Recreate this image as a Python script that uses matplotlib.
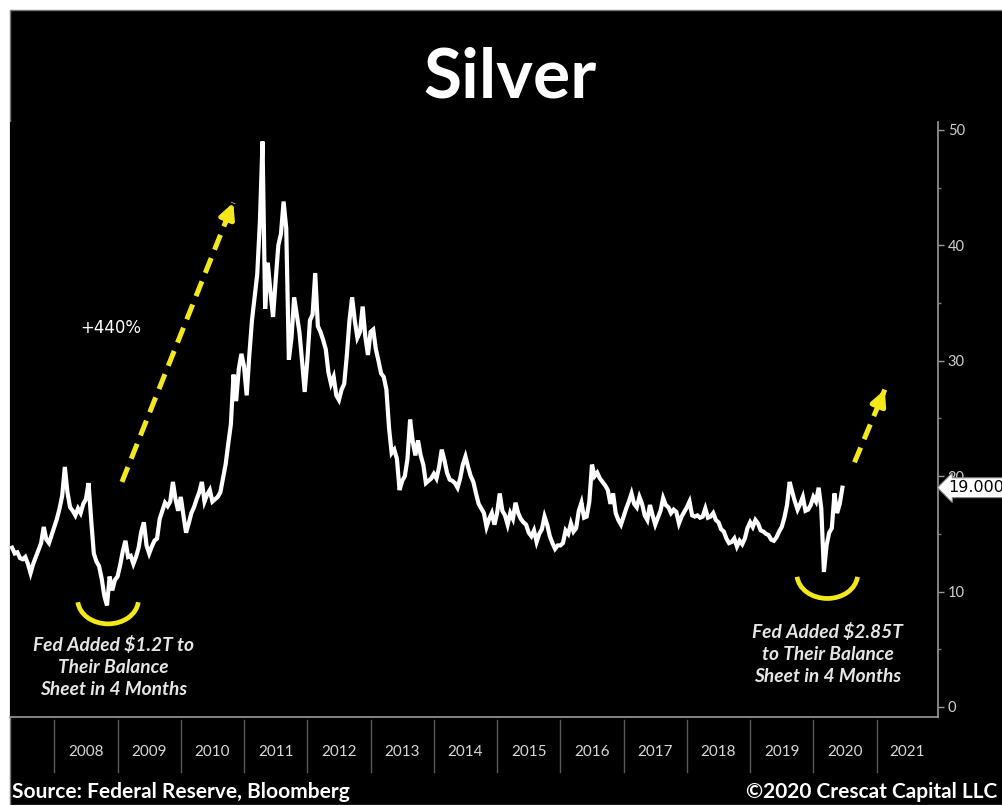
import matplotlib
matplotlib.use("Agg")
import matplotlib.pyplot as plt
import numpy as np
from matplotlib.patches import Arc, Rectangle
from matplotlib.transforms import blended_transform_factory

plt.rcParams['font.family'] = ['Lato', 'DejaVu Sans']

# Silver spot price (USD/oz), two readings per month
silver_2007 = [13.8, 13.3, 13.4, 12.9, 12.8, 13.0, 12.4, 11.6, 12.4, 13.0, 13.6, 14.2,
               15.6, 14.5, 14.2, 14.9]  # May-Dec
silver_2008 = [15.6, 16.3, 17.2, 18.3, 20.8, 18.6, 17.3, 17.0, 16.6, 17.2, 16.8, 17.6,
               18.0, 19.4, 16.2, 13.3, 12.6, 12.2, 11.1, 9.6, 8.8, 11.3, 10.1, 11.0]
silver_2009 = [11.3, 12.3, 13.5, 14.4, 13.0, 13.1, 12.4, 13.0, 13.8, 15.2, 16.0, 14.0,
               13.3, 13.9, 14.4, 14.6, 16.3, 17.0, 17.7, 17.4, 17.8, 19.5, 18.0, 17.0]
silver_2010 = [18.2, 16.6, 15.1, 15.9, 16.8, 17.3, 18.0, 18.6, 19.5, 17.8, 18.4, 18.8,
               17.8, 18.0, 18.2, 18.6, 19.8, 21.0, 22.8, 24.5, 28.8, 26.5, 29.3, 30.6]
silver_2011 = [29.5, 27.0, 30.5, 33.5, 35.5, 37.5, 42.0, 49.0, 34.5, 38.5, 36.0, 33.8,
               37.0, 40.0, 41.0, 43.8, 41.5, 30.1, 32.0, 35.5, 34.0, 32.5, 30.0, 27.3]
silver_2012 = [30.0, 33.5, 34.0, 37.6, 33.0, 32.5, 31.8, 31.0, 29.0, 28.0, 28.6, 27.0,
               26.6, 27.5, 28.0, 30.5, 33.5, 35.5, 33.5, 32.0, 32.5, 34.7, 32.1, 30.5]
silver_2013 = [32.5, 32.7, 31.0, 30.0, 28.9, 28.6, 27.5, 24.2, 22.0, 22.3, 21.5, 18.8,
               19.6, 20.0, 21.5, 24.9, 23.0, 21.8, 23.1, 21.8, 21.0, 19.4, 19.6, 19.8]
silver_2014 = [20.2, 19.8, 20.8, 22.3, 21.4, 20.3, 19.7, 19.6, 19.4, 19.0, 19.8, 21.0,
               21.7, 20.8, 20.0, 19.5, 18.5, 17.6, 17.2, 16.8, 15.6, 16.3, 16.8, 15.8]
silver_2015 = [16.8, 18.5, 17.0, 16.6, 15.8, 16.8, 16.3, 17.7, 16.8, 16.3, 16.0, 15.8,
               15.1, 14.8, 15.3, 14.3, 15.0, 15.4, 16.5, 15.8, 14.8, 14.2, 13.7, 14.0]
silver_2016 = [14.0, 14.2, 15.3, 15.0, 15.9, 15.2, 15.5, 17.0, 17.7, 16.4, 16.5, 17.8,
               21.0, 20.0, 20.3, 19.8, 19.5, 19.2, 18.8, 17.6, 18.5, 16.8, 16.2, 15.8]
silver_2017 = [16.5, 17.2, 17.8, 18.5, 17.6, 17.3, 18.2, 17.6, 16.6, 16.2, 17.5, 16.6,
               15.8, 16.4, 17.0, 18.1, 17.5, 17.3, 16.8, 17.1, 16.9, 15.9, 16.5, 16.9]
silver_2018 = [17.3, 17.8, 16.6, 16.5, 16.6, 16.4, 16.5, 17.2, 16.4, 16.5, 16.8, 16.2,
               16.0, 15.4, 15.2, 14.6, 14.2, 14.3, 14.6, 13.9, 14.4, 14.1, 14.6, 15.5]
silver_2019 = [16.0, 15.6, 16.2, 15.9, 15.3, 15.2, 15.0, 14.9, 14.5, 14.4, 14.7, 15.2,
               15.6, 16.4, 17.5, 19.5, 18.6, 17.8, 17.1, 17.6, 18.2, 17.0, 17.1, 17.5]
silver_2020 = [18.2, 17.8, 19.0, 17.2, 11.7, 14.0, 15.1, 15.5, 18.5, 16.8, 17.6, 19.0]  # Jan-Jun

years = list(range(2008, 2022))
last_price = 19.000

prices = np.array(silver_2007 + silver_2008 + silver_2009 + silver_2010 + silver_2011
                  + silver_2012 + silver_2013 + silver_2014 + silver_2015 + silver_2016
                  + silver_2017 + silver_2018 + silver_2019 + silver_2020)
dates = 2007 + 8 / 24 + np.arange(len(prices)) / 24

yellow = '#f3e81c'
W, H = 1002, 805

fig = plt.figure(figsize=(W / 100, H / 100), dpi=100, facecolor='white')
fig.patches.append(Rectangle((10 / W, 0), 1, 1 - 10 / H, transform=fig.transFigure,
                             facecolor='black', edgecolor='#777777', lw=1, zorder=-10))

ax = fig.add_axes([10 / W, 88 / H, 928 / W, 595 / H])
ax.set_facecolor('black')
ax.set_xlim(2007.30, 2021.97)
ax.set_ylim(-0.87, 50.69)

ax.plot(dates, prices, color='white', lw=3.0, solid_joinstyle='miter')

# right-hand price axis
for side in ['left', 'top']:
    ax.spines[side].set_visible(False)
for side in ['right', 'bottom']:
    ax.spines[side].set_color('#9a9a9a')
    ax.spines[side].set_linewidth(1.2)
ax.yaxis.tick_right()
ax.set_yticks(range(0, 51, 10))
ax.set_yticks(range(5, 50, 10), minor=True)
ax.tick_params(axis='y', which='major', colors='#9a9a9a', labelcolor='#d0d0d0',
               length=4, width=1, labelsize=10.5, pad=3)
ax.tick_params(axis='y', which='minor', colors='#777777', length=2, width=1)
ax.set_xticks([])

# year bands under the plot
blend = blended_transform_factory(ax.transData, ax.transAxes)
x_end = ax.get_xlim()[1]
for yr in years:
    ax.plot([yr, yr], [-0.005, -0.092], transform=blend, color='#5a5a5a', lw=1, clip_on=False)
    center = (yr + min(yr + 1, x_end)) / 2
    ax.text(center, -0.059, str(yr), transform=blend, ha='center', va='center',
            color='#d8d8d8', fontsize=11)

# last value tag
tag = blended_transform_factory(ax.transAxes, ax.transData)
ax.text(1 + 10 / 928, last_price, f'{last_price:.3f}', transform=tag, ha='left', va='center',
        fontsize=11.5, color='black', family='DejaVu Sans', clip_on=False, zorder=5,
        bbox=dict(boxstyle='larrow,pad=0.15', fc='white', ec='#888888', lw=0.8))

# dashed yellow arrows
def dashed_arrow(x0, y0, x1, y1):
    ax.plot([x0, x1], [y0, y1], color=yellow, lw=3.6, dashes=(3.2, 1.8), solid_capstyle='butt')
    ax.annotate('', xy=(x1, y1), xytext=(x0 + (x1 - x0) * 0.93, y0 + (y1 - y0) * 0.93),
                arrowprops=dict(arrowstyle='-|>,head_length=0.9,head_width=0.45',
                                color=yellow, lw=3.6, shrinkA=0, shrinkB=0))

dashed_arrow(2009.07, 19.5, 2010.83, 43.7)
dashed_arrow(2020.65, 21.2, 2021.13, 27.5)

# yellow smiles under the two lows
ax.add_patch(Arc((2008.85, 9.3), 0.96, 4.2, theta1=205, theta2=335, color=yellow, lw=3.4))
ax.add_patch(Arc((2020.22, 11.5), 0.96, 4.2, theta1=205, theta2=335, color=yellow, lw=3.4))

ax.text(2008.90, 32.8, '+440%', color='white', fontsize=12, ha='center', va='center',
        family='DejaVu Sans')
note_style = dict(color='#e6e6e6', fontsize=13.8, fontweight='bold', fontstyle='italic',
                  ha='center', va='center', linespacing=1.36)
ax.text(2008.93, 3.47, 'Fed Added $1.2T to\nTheir Balance\nSheet in 4 Months', **note_style)
ax.text(2020.23, 4.59, 'Fed Added $2.85T\nto Their Balance\nSheet in 4 Months', **note_style)

fig.text(510 / W, 1 - 78 / H, 'Silver', color='white', fontsize=50, fontweight='bold',
         ha='center', va='center')
fig.text(12 / W, 1 - 792 / H, 'Source: Federal Reserve, Bloomberg', color='white',
         fontsize=15, fontweight='bold', ha='left', va='center')
fig.text(997 / W, 1 - 792 / H, '\u00a92020 Crescat Capital LLC', color='white',
         fontsize=15, fontweight='bold', ha='right', va='center')

fig.savefig('out.png', dpi=100, facecolor=fig.get_facecolor())
